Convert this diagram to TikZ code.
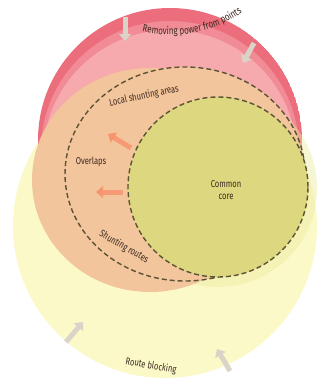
\documentclass[tikz,border=0pt]{standalone}
\usepackage{fontspec}
\setmainfont{Fira Sans}[FakeStretch=0.76]
\usetikzlibrary{arrows.meta,decorations.text,shapes.geometric}
\definecolor{yelc}{RGB}{252,249,200}
\definecolor{yelhalo}{RGB}{236,235,160}
\definecolor{rimc}{RGB}{236,110,124}
\definecolor{rimmid}{RGB}{241,140,150}
\definecolor{pinkc}{RGB}{246,170,174}
\definecolor{peachc}{RGB}{243,197,156}
\definecolor{corec}{RGB}{221,215,127}
\definecolor{dashc}{RGB}{92,82,52}
\definecolor{grayc}{RGB}{218,211,200}
\definecolor{orangec}{RGB}{247,140,104}
\definecolor{txtc}{RGB}{60,42,32}
\tikzset{
  dashline/.style={draw=dashc, line width=1.4pt, dash pattern=on 5pt off 3pt},
  lbl/.style={text=txtc, font=\fontsize{10}{11.5}\selectfont, inner sep=0pt},
  garrow/.style={draw=grayc, line width=5pt, -{Triangle[width=12pt,length=7pt]}},
  oarrow/.style={draw=orangec, line width=5pt, -{Triangle[width=12pt,length=7pt]}, opacity=0.75},
}
\begin{document}
\begin{tikzpicture}[x=1pt,y=-1pt]
\useasboundingbox (0,0) rectangle (320,383);
% big yellow circle
\fill[yelc] (165,226) circle[radius=152pt];
% red circle with darker rim at the top
\begin{scope}
  \clip (170,140) circle[radius=132pt];
  \fill[rimc] (170,140) circle[radius=132pt];
  \fill[rimmid] (170,150) circle[radius=129pt];
  \fill[pinkc] (170,157) circle[radius=127pt];
\end{scope}
% halo round the core
\fill[yelhalo, opacity=0.45] (218,188) circle[radius=99pt];
% peach area
\fill[peachc] (150,180) ellipse[x radius=118pt, y radius=112pt];
\fill[peachc] (185,174) ellipse[x radius=120pt, y radius=107pt];
\draw[dashline] (185,174) ellipse[x radius=120pt, y radius=107pt];
% common core
\fill[corec] (218,187) circle[radius=90pt];
\draw[dashline] (218,187) circle[radius=90pt];
% curved label (drawn in an upright frame)
\begin{scope}[yscale=-1]
  \coordinate (arcstart) at (118.35,-24.0);
  \path[decorate, decoration={text along path, text align=center,
    text={|\fontsize{10.5}{12}\selectfont\color{txtc}|Removing power from points}}]
    (arcstart) arc[start angle=114, end angle=44, radius=127pt];
\end{scope}
% labels
\node[lbl, rotate=12] (local) at (144,96) {Local shunting areas};
\node[lbl] (overlaps) at (91,162) {Overlaps};
\node[lbl, align=center] (core) at (226,190) {Common\\core};
\node[lbl, rotate=-30] (routes) at (124,247) {Shunting routes};
\node[lbl, rotate=-10] (blocking) at (151,366) {Route blocking};
% gray arrows
\coordinate (g1a) at (125,17);
\coordinate (g1b) at (125,41);
\coordinate (g2a) at (254,43);
\coordinate (g2b) at (243,63);
\coordinate (g3a) at (66,342);
\coordinate (g3b) at (83,322);
\coordinate (g4a) at (230,371);
\coordinate (g4b) at (217,349);
\draw[garrow] (g1a) -- (g1b);
\draw[garrow] (g2a) -- (g2b);
\draw[garrow] (g3a) -- (g3b);
\draw[garrow] (g4a) -- (g4b);
% orange arrows
\coordinate (o1a) at (131,148);
\coordinate (o1b) at (108,134);
\coordinate (o2a) at (123,192);
\coordinate (o2b) at (96,192);
\draw[oarrow] (o1a) -- (o1b);
\draw[oarrow] (o2a) -- (o2b);
\end{tikzpicture}
\end{document}
